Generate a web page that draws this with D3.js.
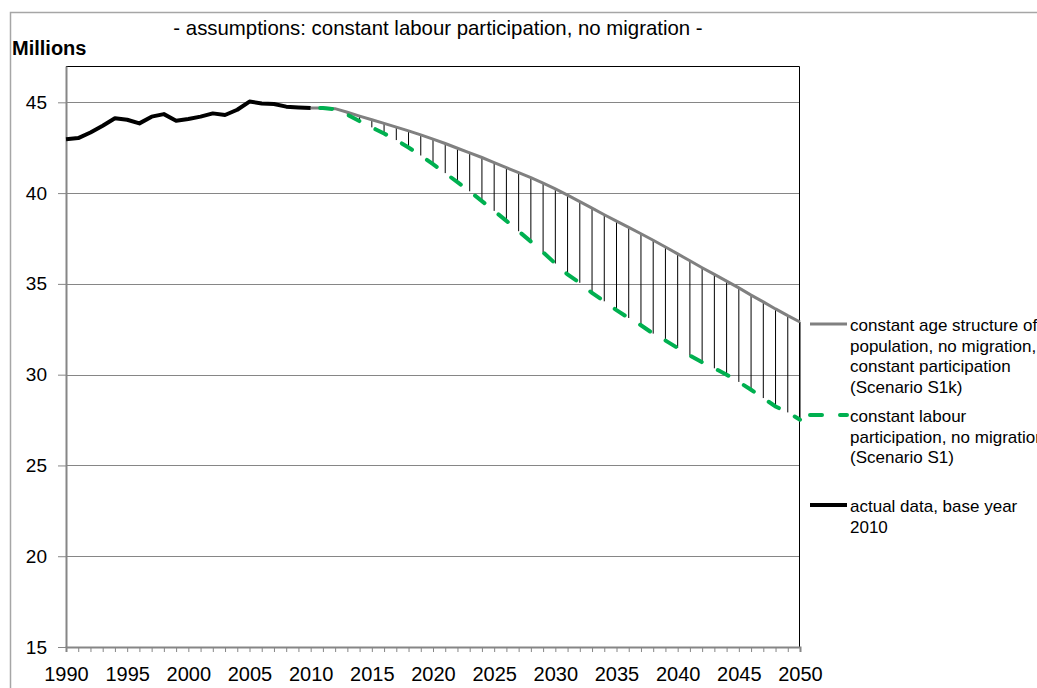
<!DOCTYPE html>
<html>
<head>
<meta charset="utf-8">
<script src="https://cdn.jsdelivr.net/npm/d3@7"></script>
<style>
    body { margin: 0; background: #fff; }
    svg { display: block; font-family: 'Liberation Sans', Arial, sans-serif; }
</style>
</head>
<body>
<svg id="grafico"></svg>
<script>
// anos
const anosReais = d3.range(1990, 2011);
const anosProjecao = d3.range(2010, 2051);

// dados em milhões
const dadosReais = [42.97, 43.03, 43.34, 43.71, 44.12, 44.04, 43.84, 44.21, 44.35, 43.99,
    44.08, 44.21, 44.39, 44.30, 44.59, 45.04, 44.94, 44.91, 44.76, 44.72, 44.69];

// Scenario S1k: constant age structure
const cenarioS1k = [44.69, 44.68, 44.65, 44.45, 44.24, 44.04, 43.84, 43.63, 43.43, 43.21,
    42.97, 42.73, 42.47, 42.21, 41.96, 41.68, 41.40, 41.13, 40.85, 40.55,
    40.23, 39.89, 39.53, 39.17, 38.81, 38.46, 38.11, 37.76, 37.40, 37.03,
    36.65, 36.27, 35.89, 35.52, 35.15, 34.78, 34.38, 34.01, 33.62, 33.25, 32.90];

// Scenario S1: constant labour participation
const cenarioS1 = [44.69, 44.68, 44.62, 44.32, 43.96, 43.62, 43.28, 42.92, 42.51, 42.07,
    41.60, 41.10, 40.60, 40.10, 39.56, 39.02, 38.47, 37.90, 37.33, 36.74,
    36.12, 35.52, 35.06, 34.50, 34.04, 33.55, 33.12, 32.72, 32.26, 31.88,
    31.47, 31.05, 30.68, 30.35, 30.00, 29.60, 29.17, 28.71, 28.25, 27.92, 27.52];

const rotulosX = ['1990', '1995', '2000', '2005', '2010', '2015', '2020', '2025', '2030', '2035', '2040', '2045', '2050'];
const rotulosY = [15, 20, 25, 30, 35, 40, 45];

const titulo = '- assumptions: constant labour participation, no migration -';
const tituloY = 'Millions';
const legendas = [
    { linhas: ['constant age structure of', 'population, no migration,', 'constant participation', '(Scenario S1k)'], cor: '#808080', largura: 3, tracejado: null },
    { linhas: ['constant labour', 'participation, no migration', '(Scenario S1)'], cor: '#00b050', largura: 4, tracejado: '12,18' },
    { linhas: ['actual data, base year', '2010'], cor: '#000000', largura: 4, tracejado: null }
];

const largura = 1037, altura = 688;
const margem = { esquerda: 66, direita: 237, superior: 66, inferior: 41 };
const larguraPlotagem = largura - margem.esquerda - margem.direita;
const alturaPlotagem = altura - margem.superior - margem.inferior;

let svg = d3.select('#grafico')
    .attr('width', largura)
    .attr('height', altura);

// moldura externa
svg.append('path')
    .attr('d', 'M10.5,' + altura + ' V12.5 H' + largura)
    .attr('fill', 'none')
    .attr('stroke', '#a6a6a6')
    .attr('stroke-width', 1.5);

svg.append('text')
    .attr('x', 438)
    .attr('y', 35)
    .style('text-anchor', 'middle')
    .style('font-size', '20.4px')
    .text(titulo);

svg.append('text')
    .attr('x', 12)
    .attr('y', 55)
    .style('font-size', '20px')
    .style('font-weight', 'bold')
    .text(tituloY);

let plotagem = svg.append('g')
    .attr('transform', 'translate(' + margem.esquerda + ',' + margem.superior + ')');

let fnX = d3.scaleLinear()
    .domain([1990, 2050])
    .range([0, larguraPlotagem]);

let fnY = d3.scaleLinear()
    .domain([15, 47])
    .range([alturaPlotagem, 0]);

// grade
plotagem.append('g')
    .selectAll('line')
    .data(rotulosY.slice(1))
    .enter()
    .append('line')
    .attr('x1', 0)
    .attr('x2', larguraPlotagem)
    .attr('y1', (d) => Math.round(fnY(d)) + 0.5)
    .attr('y2', (d) => Math.round(fnY(d)) + 0.5)
    .attr('stroke', '#868686')
    .attr('stroke-width', 1.2);

// borda superior e direita
plotagem.append('path')
    .attr('d', 'M0,0.5 H' + (larguraPlotagem - 0.5) + ' V' + alturaPlotagem)
    .attr('fill', 'none')
    .attr('stroke', '#000')
    .attr('stroke-width', 1);

// eixo X
let eixoX = d3.axisBottom(fnX)
    .tickValues(d3.range(1990, 2051))
    .tickSize(5)
    .tickPadding(15)
    .tickFormat((d) => rotulosX.indexOf(String(d)) >= 0 ? String(d) : '');

let gX = plotagem.append('g')
    .attr('transform', 'translate(0,' + alturaPlotagem + ')')
    .call(eixoX);
gX.select('.domain').attr('stroke', '#868686').attr('stroke-width', 2);
gX.selectAll('.tick line').attr('stroke', '#868686');
gX.selectAll('.tick text')
    .style('font-size', '20px')
    .style('font-family', "'Liberation Sans', Arial, sans-serif")
    .attr('fill', '#000');

// eixo Y
let eixoY = d3.axisLeft(fnY)
    .tickValues(rotulosY)
    .tickSize(8)
    .tickPadding(11)
    .tickSizeOuter(0);

let gY = plotagem.append('g')
    .call(eixoY);
gY.select('.domain').attr('stroke', '#868686').attr('stroke-width', 2);
gY.selectAll('.tick line').attr('stroke', '#868686');
gY.selectAll('.tick text')
    .style('font-size', '19px')
    .style('font-family', "'Liberation Sans', Arial, sans-serif")
    .attr('fill', '#000');

// linhas verticais entre cenários
plotagem.append('g')
    .selectAll('line')
    .data(anosProjecao)
    .enter()
    .append('line')
    .attr('x1', (d) => fnX(d))
    .attr('x2', (d) => fnX(d))
    .attr('y1', (d, i) => fnY(cenarioS1k[i]))
    .attr('y2', (d, i) => fnY(cenarioS1[i]))
    .attr('stroke', '#000')
    .attr('stroke-width', 1);

let linha = d3.line()
    .x((d) => fnX(d.ano))
    .y((d) => fnY(d.valor));

plotagem.append('path')
    .datum(anosProjecao.map((a, i) => ({ ano: a, valor: cenarioS1k[i] })))
    .attr('d', linha)
    .attr('fill', 'none')
    .attr('stroke', '#808080')
    .attr('stroke-width', 3);

plotagem.append('path')
    .datum(anosProjecao.map((a, i) => ({ ano: a, valor: cenarioS1[i] })))
    .attr('d', linha)
    .attr('fill', 'none')
    .attr('stroke', '#00b050')
    .attr('stroke-width', 4)
    .attr('stroke-linecap', 'round')
    .attr('stroke-dasharray', '12,18')
    .attr('stroke-dashoffset', 20.5);

plotagem.append('path')
    .datum(anosReais.map((a, i) => ({ ano: a, valor: dadosReais[i] })))
    .attr('d', linha)
    .attr('fill', 'none')
    .attr('stroke', '#000')
    .attr('stroke-width', 4)
    .attr('stroke-linejoin', 'round');

// legenda
let posLegenda = [324, 415, 505];
let legenda = svg.append('g');
legendas.forEach((item, k) => {
    let y0 = posLegenda[k];
    legenda.append('line')
        .attr('x1', 810)
        .attr('x2', 847)
        .attr('y1', y0)
        .attr('y2', y0)
        .attr('stroke', item.cor)
        .attr('stroke-width', item.largura)
        .attr('stroke-linecap', item.tracejado ? 'round' : 'butt')
        .attr('stroke-dasharray', item.tracejado);
    item.linhas.forEach((t, j) => {
        legenda.append('text')
            .attr('x', 850)
            .attr('y', y0 + 7 + j * 20.5)
            .style('font-size', '17px')
            .text(t);
    });
});
</script>
</body>
</html>
